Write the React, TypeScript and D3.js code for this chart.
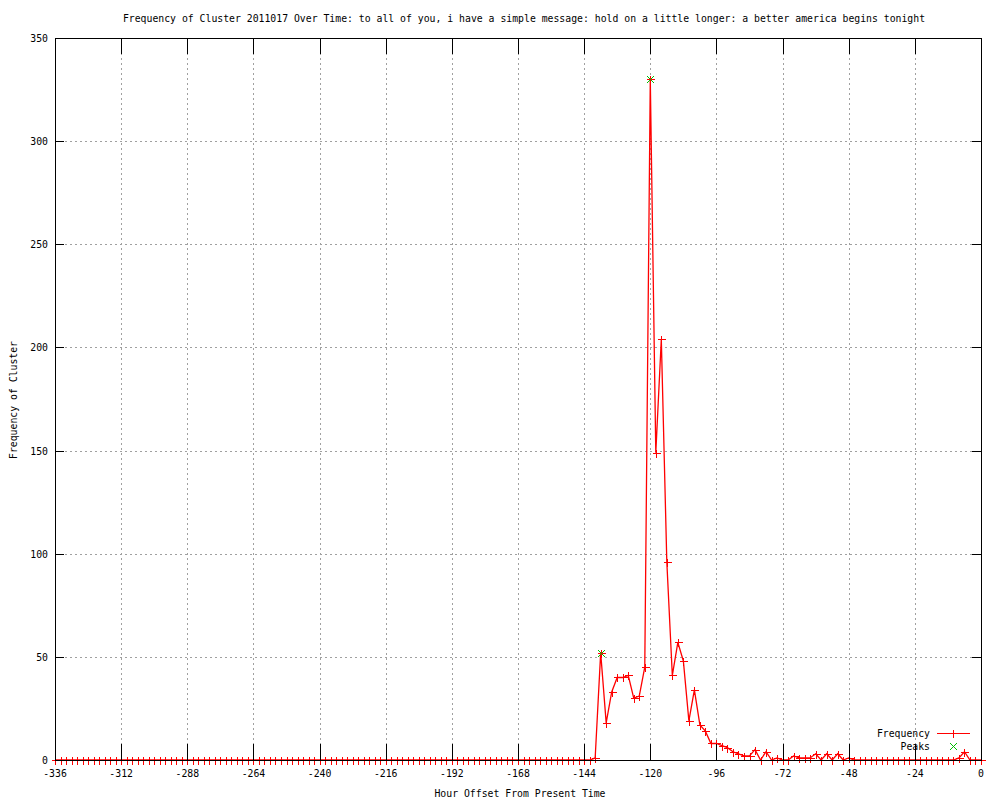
import { useEffect, useRef } from 'react';
import * as d3 from 'd3';

// hours: -336 .. 0 every 2 hours
const hours: number[] = d3.range(-336, 1, 2);

// nonzero frequencies by hour offset; everything else is 0
const freqByHour: [number, number][] = [
  [-140, 1], [-138, 52], [-136, 18], [-134, 33], [-132, 40], [-130, 40],
  [-128, 41], [-126, 30], [-124, 31], [-122, 45], [-120, 330], [-118, 149],
  [-116, 204], [-114, 96], [-112, 41], [-110, 57], [-108, 48], [-106, 19],
  [-104, 34], [-102, 17], [-100, 14], [-98, 8], [-96, 8], [-94, 7],
  [-92, 6], [-90, 4], [-88, 3], [-86, 2], [-84, 2], [-82, 5], [-80, 0],
  [-78, 4], [-76, 0], [-74, 1], [-68, 2], [-66, 1], [-64, 1], [-62, 1],
  [-60, 3], [-56, 3], [-52, 3], [-48, 1], [-8, 1], [-6, 4],
];

const peakHours: number[] = [-138, -120];

const xTicks: number[] = d3.range(-336, 1, 24);
const yTicks: number[] = d3.range(0, 351, 50);

const title =
  'Frequency of Cluster 2011017 Over Time: to all of you, i have a simple message: hold on a little longer: a better america begins tonight';

const RED = '#ff0000';
const GREEN = '#00c000';

export default function App() {
  const ref = useRef<SVGSVGElement>(null);

  useEffect(() => {
    const svg = d3.select(ref.current);
    svg.selectAll('*').remove();

    const font = '"DejaVu Sans Mono", monospace';
    const left = 55, right = 981, top = 38, bottom = 760;

    const lookup = new Map(freqByHour);
    const data = hours.map(h => ({ h, v: lookup.get(h) ?? 0 }));
    const peaks = data.filter(d => peakHours.includes(d.h));

    const x = d3.scaleLinear().domain([-336, 0]).range([left, right]);
    const y = d3.scaleLinear().domain([0, 350]).range([bottom, top]);

    svg.append('rect').attr('width', 1000).attr('height', 800).attr('fill', '#fff');

    // grid
    const grid = svg.append('g').attr('stroke', '#a0a0a0').attr('stroke-dasharray', '2,3')
      .attr('shape-rendering', 'crispEdges');
    xTicks.slice(1, -1).forEach(t => {
      const px = Math.round(x(t)) + 0.5;
      grid.append('line').attr('x1', px).attr('x2', px).attr('y1', top).attr('y2', bottom);
    });
    yTicks.slice(1, -1).forEach(t => {
      const py = Math.round(y(t)) + 0.5;
      grid.append('line').attr('x1', left).attr('x2', right).attr('y1', py).attr('y2', py);
    });

    const plus = (g: any, cx: number, cy: number, color: string) => {
      cx = Math.round(cx) + 0.5; cy = Math.round(cy) + 0.5;
      g.append('path').attr('d', `M${cx - 4},${cy}H${cx + 4}M${cx},${cy - 4}V${cy + 4}`)
        .attr('stroke', color).attr('stroke-width', 1).attr('fill', 'none')
        .attr('shape-rendering', 'crispEdges');
    };
    const cross = (g: any, cx: number, cy: number, color: string) => {
      cx = Math.round(cx) + 0.5; cy = Math.round(cy) + 0.5;
      g.append('path').attr('d', `M${cx - 3.5},${cy - 3.5}L${cx + 3.5},${cy + 3.5}M${cx - 3.5},${cy + 3.5}L${cx + 3.5},${cy - 3.5}`)
        .attr('stroke', color).attr('stroke-width', 1).attr('fill', 'none')
        .attr('shape-rendering', 'crispEdges');
    };

    // series line
    const line = d3.line<{ h: number; v: number }>().x(d => x(d.h)).y(d => y(d.v));
    svg.append('path').datum(data).attr('d', line).attr('fill', 'none')
      .attr('stroke', RED).attr('stroke-width', 1.3);

    const pts = svg.append('g');
    data.forEach(d => plus(pts, x(d.h), y(d.v), RED));
    peaks.forEach(d => cross(pts, x(d.h), y(d.v), GREEN));

    // border and ticks
    const axes = svg.append('g').attr('stroke', '#000').attr('fill', 'none').attr('shape-rendering', 'crispEdges');
    axes.append('rect').attr('x', left + 0.5).attr('y', top + 0.5).attr('width', right - left).attr('height', bottom - top);
    xTicks.forEach(t => {
      const px = Math.round(x(t)) + 0.5;
      axes.append('line').attr('x1', px).attr('x2', px).attr('y1', bottom).attr('y2', bottom - 16);
      axes.append('line').attr('x1', px).attr('x2', px).attr('y1', top).attr('y2', top + 16);
    });
    yTicks.forEach(t => {
      const py = Math.round(y(t)) + 0.5;
      axes.append('line').attr('x1', left).attr('x2', left + 9).attr('y1', py).attr('y2', py);
      axes.append('line').attr('x1', right).attr('x2', right - 9).attr('y1', py).attr('y2', py);
    });

    const txt = svg.append('g').attr('font-family', font).attr('font-size', 9.8).attr('fill', '#000');
    xTicks.forEach(t => {
      txt.append('text').attr('x', x(t)).attr('y', 777).attr('text-anchor', 'middle').text(String(t));
    });
    yTicks.forEach(t => {
      txt.append('text').attr('x', 48).attr('y', y(t) + 4).attr('text-anchor', 'end').text(String(t));
    });

    txt.append('text').attr('x', 524).attr('y', 22).attr('text-anchor', 'middle').text(title);
    txt.append('text').attr('x', 520).attr('y', 797).attr('text-anchor', 'middle').text('Hour Offset From Present Time');
    txt.append('text').attr('transform', 'translate(17,400) rotate(-90)').attr('text-anchor', 'middle').text('Frequency of Cluster');

    // legend
    txt.append('text').attr('x', 930).attr('y', 737).attr('text-anchor', 'end').text('Frequency');
    txt.append('text').attr('x', 930).attr('y', 750).attr('text-anchor', 'end').text('Peaks');
    const leg = svg.append('g');
    leg.append('line').attr('x1', 937).attr('x2', 970).attr('y1', 733.5).attr('y2', 733.5)
      .attr('stroke', RED).attr('stroke-width', 1).attr('shape-rendering', 'crispEdges');
    plus(leg, 953, 733, RED);
    cross(leg, 953, 746, GREEN);
  }, []);

  return <svg ref={ref} width="1000" height="800" style={{ display: 'block', position: 'absolute', left: 0, top: 0 }}></svg>;
}
